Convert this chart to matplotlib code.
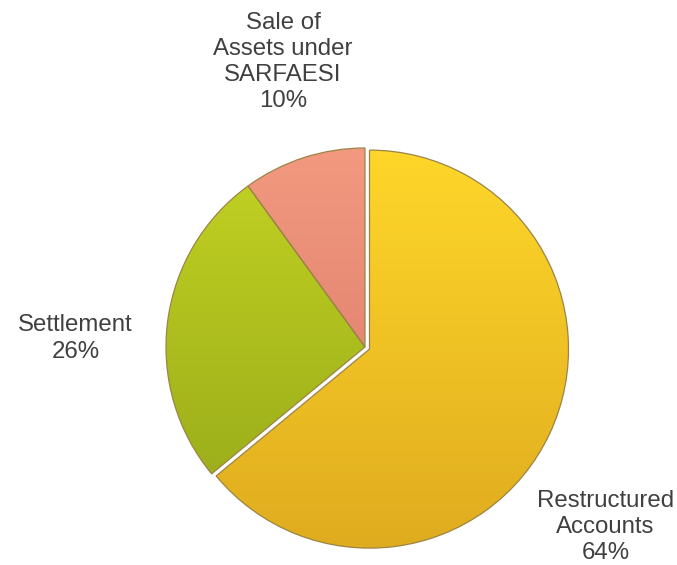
import matplotlib
matplotlib.use("Agg")
import matplotlib.pyplot as plt
import numpy as np
from matplotlib.colors import LinearSegmentedColormap

labels = ["Restructured\nAccounts", "Settlement", "Sale of\nAssets under\nSARFAESI"]
values = [64, 26, 10]
top_colors = ["#FFD82A", "#C5D423", "#F39A80"]
bottom_colors = ["#DFAB1F", "#93A619", "#D77466"]
explode = [0.025, 0, 0]

W, H, DPI = 677, 565, 100
R = 199.0
cx, cy_top = 365.0, 347.0
cy = H - cy_top

fig = plt.figure(figsize=(W / DPI, H / DPI), dpi=DPI)
ax = fig.add_axes([0, 0, 1, 1])

wedges, _ = ax.pie(values, explode=explode, startangle=90, counterclock=False,
                   radius=1.0, center=(0, 0), frame=True,
                   wedgeprops=dict(linewidth=0.9, edgecolor="#9C8446"))
ax.set_xlim(-cx / R, (W - cx) / R)
ax.set_ylim(-cy / R, (H - cy) / R)
ax.set_aspect("equal")
ax.axis("off")

grad = np.linspace(0, 1, 256).reshape(-1, 1)
for w, tc, bc in zip(wedges, top_colors, bottom_colors):
    w.set_facecolor("none")
    cmap = LinearSegmentedColormap.from_list("g", [tc, bc])
    im = ax.imshow(grad, cmap=cmap, extent=(-1.05, 1.05, -1.05, 1.05),
                   origin="upper", aspect="auto", zorder=0.5)
    im.set_clip_path(w)
    w.set_zorder(1)

txt = dict(ha="center", va="center", fontsize=17.3, color="#404040",
           family="Liberation Sans", linespacing=1.25)
pct = [f"{v}%" for v in values]
pos = [(1.209, -0.905), (-1.455, 0.043), (-0.412, 1.432)]
for lab, p, (x, y) in zip(labels, pct, pos):
    ax.text(x, y, lab + "\n" + p, **txt)

fig.savefig("out.png", dpi=DPI, facecolor="white")
